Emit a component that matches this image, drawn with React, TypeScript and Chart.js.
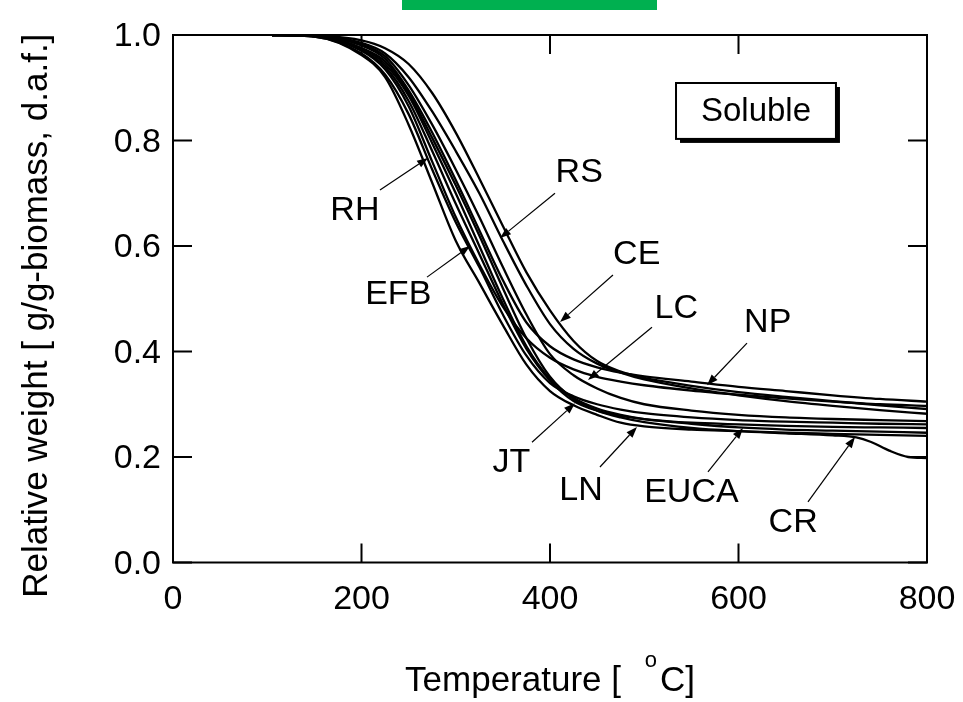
import React, { useEffect, useRef } from 'react';
import { Chart, registerables } from 'chart.js';

Chart.register(...registerables);

// ---- axis ticks ----
const xTicks = [0, 200, 400, 600, 800];
const yTicks = [0, 0.2, 0.4, 0.6, 0.8, 1.0];

// ---- temperature grid (°C) ----
const temps = [105, 150, 200, 225, 250, 275, 300, 325, 350, 375, 400, 425, 450, 475, 500, 550, 600, 650, 700, 750, 800];
const crTemps = [105, 150, 200, 225, 250, 275, 300, 325, 350, 375, 400, 425, 450, 475, 500, 550, 600, 650, 700, 725, 740, 760, 780, 800];

// ---- relative weight series ----
const LN = [1.0, 0.997, 0.962, 0.92, 0.83, 0.72, 0.61, 0.53, 0.45, 0.375, 0.325, 0.298, 0.28, 0.265, 0.258, 0.252, 0.249, 0.246, 0.244, 0.242, 0.24];
const EFB = [1.0, 0.997, 0.965, 0.925, 0.85, 0.745, 0.645, 0.56, 0.47, 0.392, 0.34, 0.315, 0.3, 0.29, 0.283, 0.275, 0.27, 0.267, 0.265, 0.263, 0.262];
const RH = [1.0, 0.998, 0.97, 0.935, 0.865, 0.76, 0.655, 0.565, 0.485, 0.425, 0.388, 0.366, 0.352, 0.343, 0.336, 0.326, 0.318, 0.311, 0.305, 0.3, 0.297];
const JT = [1.0, 0.998, 0.972, 0.94, 0.875, 0.78, 0.68, 0.585, 0.49, 0.405, 0.345, 0.306, 0.288, 0.278, 0.272, 0.265, 0.262, 0.259, 0.257, 0.256, 0.255];
const EUCA = [1.0, 0.998, 0.975, 0.945, 0.885, 0.795, 0.7, 0.6, 0.5, 0.41, 0.348, 0.312, 0.292, 0.28, 0.272, 0.263, 0.256, 0.252, 0.25, 0.248, 0.246];
const CR = [1.0, 0.998, 0.975, 0.95, 0.89, 0.805, 0.715, 0.62, 0.52, 0.425, 0.352, 0.31, 0.288, 0.275, 0.266, 0.255, 0.249, 0.245, 0.241, 0.237, 0.229, 0.212, 0.2, 0.198];
const NP = [1.0, 0.999, 0.98, 0.955, 0.895, 0.815, 0.725, 0.63, 0.535, 0.455, 0.41, 0.385, 0.37, 0.36, 0.353, 0.343, 0.333, 0.325, 0.317, 0.31, 0.305];
const LC = [1.0, 0.999, 0.982, 0.96, 0.905, 0.83, 0.745, 0.655, 0.56, 0.47, 0.395, 0.355, 0.33, 0.312, 0.3, 0.288, 0.28, 0.275, 0.272, 0.27, 0.268];
const RS = [1.0, 0.999, 0.985, 0.965, 0.92, 0.855, 0.78, 0.7, 0.61, 0.525, 0.452, 0.405, 0.377, 0.36, 0.347, 0.33, 0.317, 0.306, 0.297, 0.289, 0.282];
const CE = [1.0, 0.999, 0.99, 0.975, 0.945, 0.89, 0.815, 0.728, 0.638, 0.55, 0.478, 0.42, 0.382, 0.362, 0.35, 0.335, 0.323, 0.314, 0.306, 0.298, 0.291];

// ---- annotation labels (data coordinates) ----
const labelNames = ['RH', 'RS', 'EFB', 'CE', 'LC', 'NP', 'JT', 'LN', 'EUCA', 'CR'];
const labelT = [193, 431, 239, 492, 534, 631, 359, 433, 550, 658];
const labelW = [0.668, 0.74, 0.507, 0.583, 0.482, 0.454, 0.189, 0.137, 0.132, 0.075];
const arrowTailT = [219.6, 405.3, 269.5, 466.8, 508.2, 609, 380.9, 453, 567.6, 673.7];
const arrowTailW = [0.706, 0.7, 0.541, 0.545, 0.446, 0.416, 0.228, 0.181, 0.172, 0.115];
const arrowTipT = [270.6, 347, 315.1, 410.6, 440.3, 566.6, 426.5, 492.3, 604.8, 723.6];
const arrowTipW = [0.767, 0.615, 0.6, 0.456, 0.346, 0.336, 0.302, 0.257, 0.255, 0.238];

// ---- "Soluble" box (data coordinates) ----
const boxText = 'Soluble';
const boxT = [533.7, 703.4];
const boxW = [0.803, 0.909];

const FONT = '"Liberation Sans", Arial, sans-serif';

const toPts = (xs: number[], ys: number[]) => xs.map((x, i) => ({ x, y: ys[i] }));

const decorPlugin = {
  id: 'decor',
  afterDraw(chart: any) {
    const { ctx, chartArea: a, scales } = chart;
    const xs = scales.x;
    const ys = scales.y;
    const px = (v: number) => xs.getPixelForValue(v);
    const py = (v: number) => ys.getPixelForValue(v);
    ctx.save();
    ctx.strokeStyle = '#000';
    ctx.fillStyle = '#000';
    // frame
    ctx.lineWidth = 2;
    ctx.strokeRect(a.left, a.top, a.right - a.left, a.bottom - a.top);
    // inward ticks on all sides
    const tl = 19;
    ctx.beginPath();
    xTicks.forEach((v) => {
      const x = px(v);
      ctx.moveTo(x, a.bottom);
      ctx.lineTo(x, a.bottom - tl);
      ctx.moveTo(x, a.top);
      ctx.lineTo(x, a.top + tl);
    });
    yTicks.forEach((v) => {
      const y = py(v);
      ctx.moveTo(a.left, y);
      ctx.lineTo(a.left + tl, y);
      ctx.moveTo(a.right, y);
      ctx.lineTo(a.right - tl, y);
    });
    ctx.stroke();

    // arrows
    ctx.lineWidth = 1.2;
    for (let i = 0; i < labelNames.length; i++) {
      const x0 = px(arrowTailT[i]);
      const y0 = py(arrowTailW[i]);
      const x1 = px(arrowTipT[i]);
      const y1 = py(arrowTipW[i]);
      const ang = Math.atan2(y1 - y0, x1 - x0);
      const hl = 11;
      const hw = 4;
      const bx = x1 - hl * Math.cos(ang);
      const by = y1 - hl * Math.sin(ang);
      ctx.beginPath();
      ctx.moveTo(x0, y0);
      ctx.lineTo(bx, by);
      ctx.stroke();
      ctx.beginPath();
      ctx.moveTo(x1, y1);
      ctx.lineTo(bx + hw * Math.sin(ang), by - hw * Math.cos(ang));
      ctx.lineTo(bx - hw * Math.sin(ang), by + hw * Math.cos(ang));
      ctx.closePath();
      ctx.fill();
    }

    // labels
    ctx.font = `34px ${FONT}`;
    ctx.textAlign = 'center';
    ctx.textBaseline = 'middle';
    for (let i = 0; i < labelNames.length; i++) {
      ctx.fillText(labelNames[i], px(labelT[i]), py(labelW[i]));
    }

    // Soluble box with shadow
    const bx0 = px(boxT[0]);
    const bx1 = px(boxT[1]);
    const by0 = py(boxW[1]);
    const by1 = py(boxW[0]);
    ctx.fillStyle = '#000';
    ctx.fillRect(bx0 + 4, by0 + 4, bx1 - bx0, by1 - by0);
    ctx.fillStyle = '#fff';
    ctx.fillRect(bx0, by0, bx1 - bx0, by1 - by0);
    ctx.lineWidth = 2;
    ctx.strokeRect(bx0, by0, bx1 - bx0, by1 - by0);
    ctx.fillStyle = '#000';
    ctx.font = `33px ${FONT}`;
    ctx.fillText(boxText, (bx0 + bx1) / 2, (by0 + by1) / 2 + 1);

    // y-axis title
    ctx.save();
    ctx.font = `35px ${FONT}`;
    ctx.translate(47, (a.top + a.bottom) / 2 + 17);
    ctx.rotate(-Math.PI / 2);
    ctx.textAlign = 'center';
    ctx.textBaseline = 'alphabetic';
    ctx.fillText('Relative weight [ g/g-biomass, d.a.f.]', 0, 0);
    ctx.restore();

    // x-axis title with superscript o
    const baseY = 691;
    ctx.textAlign = 'left';
    ctx.textBaseline = 'alphabetic';
    ctx.font = `35px ${FONT}`;
    const part1 = 'Temperature [ ';
    const w1 = ctx.measureText(part1).width;
    const part3 = 'C]';
    const w3 = ctx.measureText(part3).width;
    ctx.font = `22px ${FONT}`;
    const w2 = ctx.measureText('o').width;
    const gap = 14;
    const total = w1 + gap + w2 + 3 + w3;
    const sx = (a.left + a.right) / 2 - total / 2;
    ctx.font = `35px ${FONT}`;
    ctx.fillText(part1, sx, baseY);
    ctx.font = `22px ${FONT}`;
    ctx.fillText('o', sx + w1 + gap, baseY - 24);
    ctx.font = `35px ${FONT}`;
    ctx.fillText(part3, sx + w1 + gap + w2 + 3, baseY);
    ctx.restore();
  },
};

export default function App() {
  const ref = useRef<HTMLCanvasElement | null>(null);
  useEffect(() => {
    if (!ref.current) return;
    const series: [string, number[], number[]][] = [
      ['LN', temps, LN],
      ['EFB', temps, EFB],
      ['RH', temps, RH],
      ['JT', temps, JT],
      ['EUCA', temps, EUCA],
      ['CR', crTemps, CR],
      ['NP', temps, NP],
      ['LC', temps, LC],
      ['RS', temps, RS],
      ['CE', temps, CE],
    ];
    const chart = new Chart(ref.current, {
      type: 'line',
      data: {
        datasets: series.map(([name, xs, ys]) => ({
          label: name,
          data: toPts(xs, ys),
          borderColor: '#000',
          borderWidth: 2.3,
          pointRadius: 0,
          fill: false,
          cubicInterpolationMode: 'monotone' as const,
        })),
      },
      options: {
        responsive: false,
        animation: false,
        events: [],
        layout: { padding: { left: 0, top: 35, right: 36, bottom: 0 } },
        plugins: { legend: { display: false }, tooltip: { enabled: false } },
        scales: {
          x: {
            type: 'linear',
            min: 0,
            max: 800,
            afterFit: (s: any) => {
              s.height = 702 - 562.5;
              s.paddingLeft = 0;
              s.paddingRight = 0;
            },
            afterBuildTicks: (s: any) => {
              s.ticks = xTicks.map((v) => ({ value: v }));
            },
            ticks: {
              color: '#000',
              font: { family: FONT, size: 34 },
              padding: 17,
              maxRotation: 0,
              callback: (v: any) => String(v),
            },
            grid: { display: false, drawTicks: false },
            border: { display: false },
          },
          y: {
            type: 'linear',
            min: 0,
            max: 1,
            afterFit: (s: any) => {
              s.width = 173;
              s.paddingTop = 0;
              s.paddingBottom = 0;
            },
            afterBuildTicks: (s: any) => {
              s.ticks = yTicks.map((v) => ({ value: v }));
            },
            ticks: {
              color: '#000',
              font: { family: FONT, size: 34 },
              padding: 12,
              labelOffset: 2,
              callback: (v: any) => Number(v).toFixed(1),
            },
            grid: { display: false, drawTicks: false },
            border: { display: false },
          },
        },
      },
      plugins: [decorPlugin],
    });
    return () => chart.destroy();
  }, []);

  return (
    <div style={{ position: 'absolute', left: 0, top: 0, width: 963, height: 702, background: '#fff' }}>
      <div style={{ position: 'absolute', left: 402, top: 0, width: 255, height: 10, background: '#00B050' }} />
      <canvas ref={ref} width={963} height={702} style={{ position: 'absolute', left: 0, top: 0 }} />
    </div>
  );
}
